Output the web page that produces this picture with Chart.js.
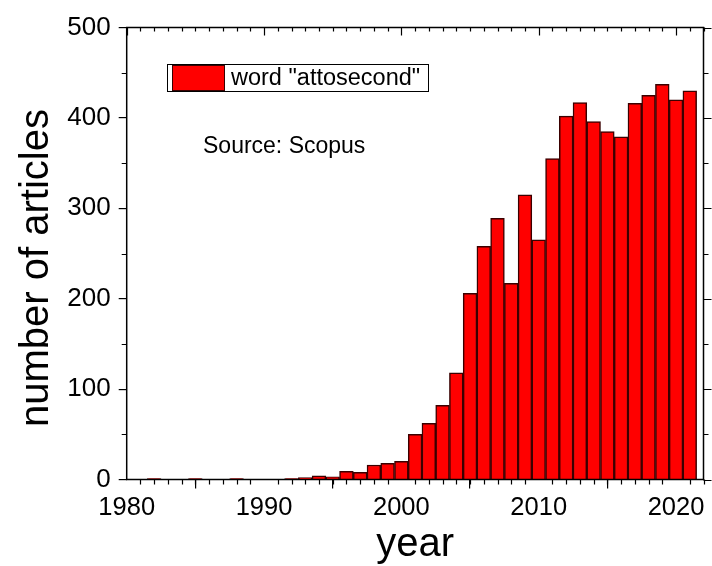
<!DOCTYPE html>
<html>
<head>
<meta charset="utf-8">
<title>attosecond articles</title>
<script src="https://cdn.jsdelivr.net/npm/chart.js@4/dist/chart.umd.min.js"></script>
<style>
  html, body { margin: 0; padding: 0; background: #fff; }
  #wrap { width: 712px; height: 566px; }
</style>
</head>
<body>
<div id="wrap"><canvas id="articles-chart" width="712" height="566"></canvas></div>
<script>
// data
var years = [1980, 1981, 1982, 1983, 1984, 1985, 1986, 1987, 1988, 1989,
             1990, 1991, 1992, 1993, 1994, 1995, 1996, 1997, 1998, 1999,
             2000, 2001, 2002, 2003, 2004, 2005, 2006, 2007, 2008, 2009,
             2010, 2011, 2012, 2013, 2014, 2015, 2016, 2017, 2018, 2019,
             2020, 2021];
var articles = [0, 0, 1, 0, 0, 1, 0, 0, 1, 0,
                0, 0, 1, 2, 4, 3, 9, 8, 16, 18,
                20, 50, 62, 82, 118, 206, 258, 289, 217, 315,
                265, 355, 402, 417, 396, 385, 379, 416, 425, 437,
                420, 430];
var xTickYears = [1980, 1990, 2000, 2010, 2020];
var yTickValues = [0, 100, 200, 300, 400, 500];
var seriesLabel = 'word "attosecond"';
var sourceNote = 'Source: Scopus';

(function () {
    'use strict';

    var FONT = "'Liberation Sans', Arial, Helvetica, sans-serif";
    var ctx = document.getElementById('articles-chart');

    // frame, minor ticks, top/right ticks, legend box and source note
    var framePlugin = {
        id: 'originFrame',
        afterDatasetsDraw: function (chart) {
            var c = chart.ctx;
            var a = chart.chartArea;
            var xs = chart.scales.x;
            var ys = chart.scales.y;
            var y, v, px, len;

            c.save();
            c.strokeStyle = '#000';
            c.lineWidth = 1.5;
            c.strokeRect(a.left, a.top, a.right - a.left, a.bottom - a.top);

            c.lineWidth = 1.2;
            c.beginPath();
            for (y = xs.min; y <= xs.max; y++) {
                px = Math.round(xs.getPixelForValue(y)) + 0.5;
                var major = (y % 10 === 0);
                if (!major) {
                    c.moveTo(px, a.bottom);
                    c.lineTo(px, a.bottom + 5);
                }
                c.moveTo(px, a.top);
                c.lineTo(px, a.top + (major ? 8 : 4));
            }
            for (v = ys.min; v <= ys.max; v += 50) {
                px = Math.round(ys.getPixelForValue(v)) + 0.5;
                len = (v % 100 === 0) ? 8 : 5;
                if (v % 100 !== 0) {
                    c.moveTo(a.left, px);
                    c.lineTo(a.left - 5, px);
                }
                c.moveTo(a.right, px);
                c.lineTo(a.right + len, px);
            }
            c.stroke();

            // legend box
            c.lineWidth = 1;
            c.strokeStyle = '#000';
            c.fillStyle = '#fff';
            c.fillRect(167.5, 64.5, 261, 27);
            c.strokeRect(167.5, 64.5, 261, 27);
            c.fillStyle = '#ff0000';
            c.fillRect(172.5, 65.5, 52, 25);
            c.strokeStyle = '#3a0000';
            c.strokeRect(172.5, 65.5, 52, 25);

            c.fillStyle = '#000';
            c.textBaseline = 'middle';
            c.textAlign = 'left';
            c.font = '23.5px ' + FONT;
            c.fillText(seriesLabel, 231, 78.5);
            c.font = '23px ' + FONT;
            c.fillText(sourceNote, 203, 147);

            // y title, drawn here so it sits where the original has it
            c.translate(37, 268);
            c.rotate(-Math.PI / 2);
            c.textAlign = 'center';
            c.font = '40px ' + FONT;
            c.fillText('number of articles', 0, 0);
            c.restore();
        }
    };

    var barData = years.map(function (yr, i) {
        return { x: yr, y: articles[i] };
    });

    new Chart(ctx, {
        type: 'bar',
        data: {
            datasets: [{
                label: seriesLabel,
                data: barData,
                backgroundColor: '#ff0000',
                borderColor: '#3a0000',
                borderWidth: 1.5,
                borderSkipped: 'bottom',
                barPercentage: 1.0,
                categoryPercentage: 1.0
            }]
        },
        options: {
            responsive: false,
            animation: false,
            events: [],
            layout: {
                padding: { top: 27.5, right: 8.5, left: 0, bottom: 0 }
            },
            plugins: {
                legend: { display: false },
                tooltip: { enabled: false }
            },
            scales: {
                x: {
                    type: 'linear',
                    min: 1980,
                    max: 2022,
                    offset: false,
                    border: { display: false },
                    grid: {
                        drawOnChartArea: false,
                        color: '#000',
                        lineWidth: 1.2,
                        tickLength: 9
                    },
                    afterBuildTicks: function (scale) {
                        scale.ticks = xTickYears.map(function (v) { return { value: v }; });
                    },
                    afterFit: function (scale) {
                        scale.height = 566 - 479.5;
                    },
                    ticks: {
                        color: '#000',
                        padding: 4,
                        maxRotation: 0,
                        autoSkip: false,
                        font: { family: FONT, size: 25.5 },
                        callback: function (value) { return String(value); }
                    },
                    title: {
                        display: true,
                        text: 'year',
                        color: '#000',
                        font: { family: FONT, size: 40 },
                        padding: { top: 0, bottom: -3 }
                    }
                },
                y: {
                    min: 0,
                    max: 500,
                    border: { display: false },
                    grid: {
                        drawOnChartArea: false,
                        color: '#000',
                        lineWidth: 1.2,
                        tickLength: 8
                    },
                    afterBuildTicks: function (scale) {
                        scale.ticks = yTickValues.map(function (v) { return { value: v }; });
                    },
                    afterFit: function (scale) {
                        scale.width = 126.7;
                    },
                    ticks: {
                        color: '#000',
                        padding: 8,
                        font: { family: FONT, size: 26 },
                        callback: function (value) { return String(value); }
                    }
                }
            }
        },
        plugins: [framePlugin]
    });
})();
</script>
</body>
</html>
